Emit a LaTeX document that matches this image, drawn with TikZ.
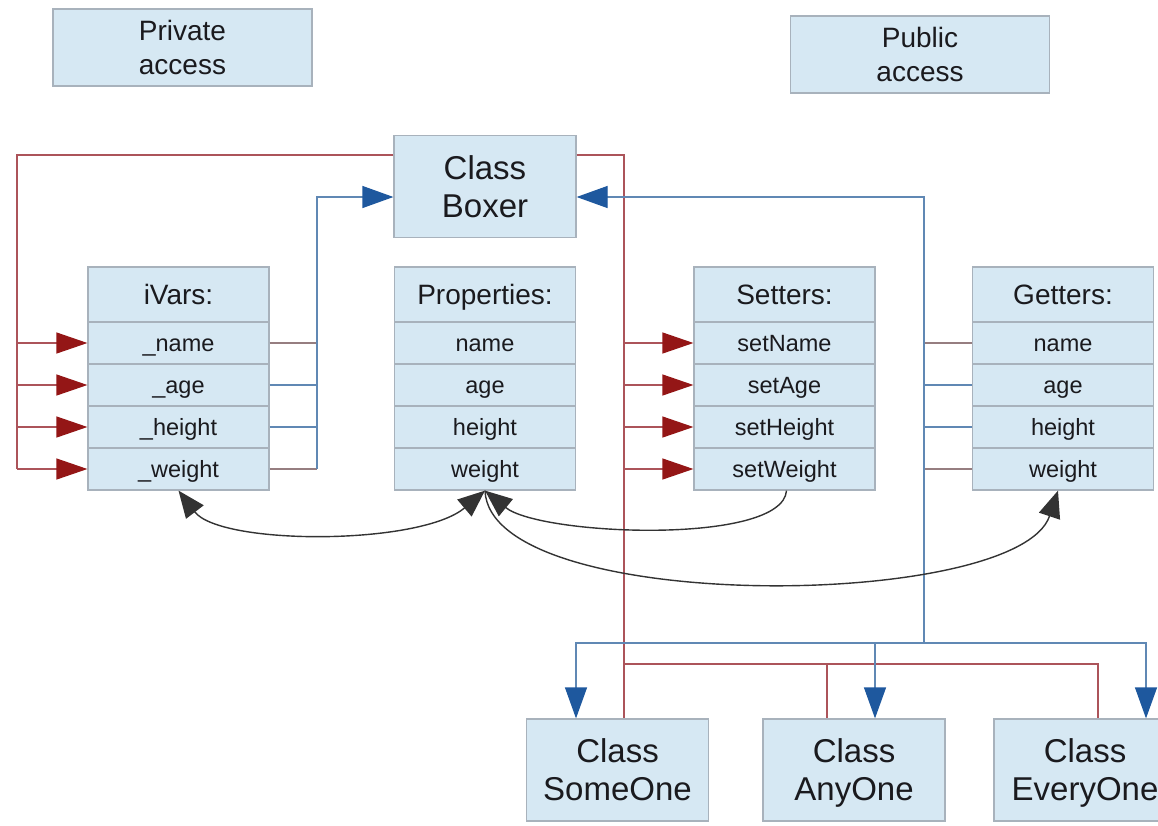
\documentclass[tikz,border=0pt]{standalone}
\usepackage{fontspec}
\setmainfont{Liberation Sans}
\usepackage{tikz}
\definecolor{boxfill}{RGB}{214,232,243}
\definecolor{boxrand}{RGB}{168,178,188}
\definecolor{privrot}{RGB}{172,84,90}
\definecolor{pfeilrot}{RGB}{148,22,22}
\definecolor{publau}{RGB}{96,136,180}
\definecolor{pfeilblau}{RGB}{30,88,158}
\definecolor{stubgrau}{RGB}{150,126,128}
\definecolor{schrift}{RGB}{26,26,30}
\usetikzlibrary{arrows.meta}

\begin{document}
\begin{tikzpicture}[x=1pt, y=-1pt,
			kasten/.style={draw=boxrand, fill=boxfill, line width=1.2pt, inner sep=0pt, align=center, text=schrift, text depth=0pt},
			zugang/.style={kasten, minimum width=259pt, minimum height=77pt, font=\fontsize{28}{34}\selectfont},
			klasse/.style={kasten, minimum width=182pt, minimum height=102pt, font=\fontsize{33}{38}\selectfont},
			kopf/.style={kasten, minimum width=181pt, minimum height=55pt, text height=20pt, font=\fontsize{28}{32}\selectfont},
			zeile/.style={kasten, minimum width=181pt, minimum height=42pt, text height=17pt, font=\fontsize{23.5}{28}\selectfont},
			rotlinie/.style={draw=privrot, line width=1.2pt},
			rotpfeil/.style={rotlinie, -{Triangle[length=31pt,width=21pt,color=pfeilrot]}},
			blaulinie/.style={draw=publau, line width=1.2pt},
			blaupfeil/.style={blaulinie, -{Triangle[length=31pt,width=22pt,color=pfeilblau]}},
			spitze/.tip={Triangle[length=27pt,width=22pt]},
			bogen/.style={draw=black!80, line width=1.4pt}]
			%Bildbereich
			\useasboundingbox (0,0) rectangle (1158,825);
			% Zugriff
			\node[zugang] (privat) at (182.5,47.5) {Private\\access};
			\node[zugang] (public) at (920,54.5) {Public\\access};
			% Klassen
			\node[klasse] (boxer) at (485,186.5) {Class\\Boxer};
			\node[klasse] (someone) at (617.5,770) {Class\\SomeOne};
			\node[klasse] (anyone) at (854,770) {Class\\AnyOne};
			\node[klasse] (everyone) at (1085,770) {Class\\EveryOne};
			% Tabellen
			\foreach \tab/\xm/\titel/\a/\b/\c/\d in {
					ivars/178.5/iVars:/\_name/\_age/\_height/\_weight,
					props/485/Properties:/name/age/height/weight,
					setters/784.5/Setters:/setName/setAge/setHeight/setWeight,
					getters/1063/Getters:/name/age/height/weight}
				{
				\node[kopf] (\tab) at (\xm,294.5) {\titel};
				\foreach \t [count=\i] in {\a,\b,\c,\d}
					\node[zeile] (\tab-\i) at (\xm,{301+42*\i}) {\t};
				}
			% Hilfspunkte
			\coordinate (lbus) at (17,155);
			\coordinate (rbus) at (624,155);
			\coordinate (rlow) at (624,664);
			\coordinate (ivbus) at (317,197);
			\coordinate (gbus) at (924,197);
			\coordinate (blow) at (924,643);
			% private Verbindungen (rot)
			\draw[rotlinie] (lbus -| boxer.west) -- (lbus) -- (lbus |- ivars-4.west);
			\foreach \i in {1,...,4} \draw[rotpfeil] (lbus |- ivars-\i.west) -- (ivars-\i.west);
			\draw[rotlinie] (rbus -| boxer.east) -- (rbus) -- ([xshift=6.5pt]someone.north);
			\foreach \i in {1,...,4} \draw[rotpfeil] (rbus |- setters-\i.west) -- (setters-\i.west);
			\draw[rotlinie] (rlow) -| ([xshift=-27pt]anyone.north);
			\draw[rotlinie] (rlow) -| ([xshift=13pt]everyone.north);
			% oeffentliche Verbindungen (blau)
			\foreach \i/\f in {1/stubgrau,2/publau,3/publau,4/stubgrau}
				{
				\draw[blaulinie, draw=\f] (ivars-\i.east) -- (ivars-\i.east -| ivbus);
				\draw[blaulinie, draw=\f] (getters-\i.west) -- (getters-\i.west -| gbus);
				}
			\draw[blaupfeil] (ivbus |- ivars-4.east) -- (ivbus) -- (ivbus -| boxer.west);
			\draw[blaupfeil] (blow) -- (gbus) -- (gbus -| boxer.east);
			\draw[blaupfeil] (blow) -| ([xshift=-41.5pt]someone.north);
			\draw[blaupfeil] (blow) -| ([xshift=21pt]anyone.north);
			\draw[blaupfeil] (blow) -| ([xshift=61pt]everyone.north);
			% Boegen
			\draw[bogen, {spitze}-{spitze}] (ivars-4.south) .. controls +(42,55) and +(-65,55) .. (props-4.south);
			\draw[bogen, -{spitze}] ([xshift=2pt]setters-4.south) .. controls +(-4,55) and +(55,45) .. (props-4.south);
			\draw[bogen, -{spitze}] (props-4.south) .. controls +(5,125) and +(-40,120) .. ([xshift=-5pt]getters-4.south);
		\end{tikzpicture}
\end{document}
